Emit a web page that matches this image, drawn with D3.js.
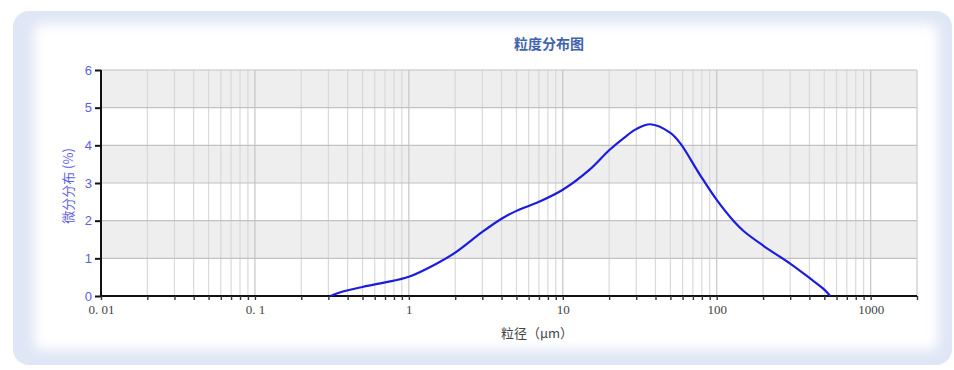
<!DOCTYPE html>
<html>
<head>
<meta charset="utf-8">
<script src="https://cdn.jsdelivr.net/npm/d3@7/dist/d3.min.js"></script>
<style>
  html, body { margin: 0; padding: 0; background: #ffffff; }
  svg { display: block; }
</style>
</head>
<body>
<svg id="chart" width="954" height="370"></svg>
<script>
// Particle size (µm) and differential distribution (%)
const particleSize = [0.31, 0.36, 0.5, 0.7, 1, 1.5, 2, 3, 4, 5, 7, 10, 15, 20, 25, 30, 37, 50, 58, 78, 100, 130, 150, 200, 300, 400, 500, 546];
const differential = [0, 0.1, 0.24, 0.36, 0.51, 0.85, 1.15, 1.7, 2.05, 2.26, 2.5, 2.82, 3.36, 3.87, 4.2, 4.43, 4.56, 4.33, 4.05, 3.21, 2.55, 1.97, 1.72, 1.34, 0.86, 0.48, 0.17, 0];
const xTickValues = [0.01, 0.1, 1, 10, 100, 1000];
const xTickLabels = ["0. 01", "0. 1", "1", "10", "100", "1000"];
const yTickValues = [0, 1, 2, 3, 4, 5, 6];
const chartTitle = "粒度分布图";
const xTitle = "粒径（μm）";
const yTitle = "微分分布 (%)";

const svg = d3.select("#chart");
const cjk = "'Noto Sans CJK SC', 'Noto Sans', sans-serif";

// Panel with a soft blue rim
const defs = svg.append("defs");
defs.append("filter").attr("id", "soft")
  .attr("x", "-10%").attr("y", "-10%").attr("width", "120%").attr("height", "120%")
  .append("feGaussianBlur").attr("stdDeviation", 6);
svg.append("rect").attr("x", 13).attr("y", 11).attr("width", 939).attr("height", 354)
  .attr("rx", 16).attr("fill", "#dfe6f5");
svg.append("rect").attr("x", 34).attr("y", 24).attr("width", 904).attr("height", 326)
  .attr("rx", 8).attr("fill", "#ffffff").attr("filter", "url(#soft)");

const plotL = 101, plotR = 917, plotT = 70, plotB = 296;
const x = d3.scaleLog().domain([0.01, 2000]).range([plotL, plotR]);
const y = d3.scaleLinear().domain([0, 6]).range([plotB, plotT]);

// Alternating bands
const bands = [[5, 6], [3, 4], [1, 2]];
svg.append("g").selectAll("rect").data(bands).join("rect")
  .attr("x", plotL).attr("width", plotR - plotL)
  .attr("y", d => y(d[1])).attr("height", d => y(d[0]) - y(d[1]))
  .attr("fill", "#eeeeee");

// Vertical grid at every log tick
const gridX = [];
for (let e = -2; e <= 3; e++) {
  for (let m = 1; m <= 9; m++) {
    const v = m * Math.pow(10, e);
    if (v <= 2000) gridX.push(v);
  }
}
const isMajor = v => Math.abs(Math.log10(v) - Math.round(Math.log10(v))) < 1e-9;
svg.append("g").selectAll("line").data(gridX.concat([2000])).join("line")
  .attr("x1", d => x(d)).attr("x2", d => x(d))
  .attr("y1", plotT).attr("y2", plotB)
  .attr("stroke", d => isMajor(d) ? "#c4c4c4" : "#d9d9d9")
  .attr("stroke-width", 1.2);

// Horizontal grid
svg.append("g").selectAll("line").data(yTickValues.slice(1)).join("line")
  .attr("x1", plotL).attr("x2", plotR)
  .attr("y1", d => y(d)).attr("y2", d => y(d))
  .attr("stroke", "#c2c2c2").attr("stroke-width", 1.2);

// Y axis
const yAxis = svg.append("g").attr("transform", `translate(${plotL},0)`)
  .call(d3.axisLeft(y).tickValues(yTickValues).tickFormat(d3.format("d")).tickSize(6).tickPadding(3));
yAxis.select(".domain").attr("stroke", "#111").attr("stroke-width", 2).attr("d", `M0,${plotT}V${plotB}`);
yAxis.selectAll(".tick line").attr("stroke", "#111").attr("stroke-width", 2);
yAxis.selectAll(".tick text").attr("fill", "#5d5de4")
  .style("font-family", "'Liberation Sans', Arial, sans-serif").style("font-size", "13px");

// X axis
const xAxis = svg.append("g").attr("transform", `translate(0,${plotB})`)
  .call(d3.axisBottom(x).tickValues(gridX).tickSize(4).tickPadding(5)
    .tickFormat(d => { const i = xTickValues.findIndex(t => Math.abs(t - d) / t < 1e-9); return i >= 0 ? xTickLabels[i] : ""; }));
xAxis.select(".domain").attr("stroke", "#111").attr("stroke-width", 2.2).attr("d", `M${plotL},0H${plotR}`);
xAxis.selectAll(".tick line").attr("stroke", "#333").attr("stroke-width", 1.4);
xAxis.selectAll(".tick text").attr("fill", "#444")
  .style("font-family", "'Liberation Serif', 'DejaVu Serif', serif").style("font-size", "13px");

// Distribution curve
const line = d3.line()
  .x((d, i) => x(particleSize[i]))
  .y(d => y(d))
  .curve(d3.curveCatmullRom.alpha(0.5));
svg.append("path").datum(differential)
  .attr("d", line)
  .attr("fill", "none").attr("stroke", "#1c1ce0").attr("stroke-width", 2.2);

// Titles
svg.append("text").attr("x", 549).attr("y", 49).attr("text-anchor", "middle")
  .attr("fill", "#3f63ad").style("font-family", cjk).style("font-size", "14px").style("font-weight", "bold")
  .text(chartTitle);
svg.append("text").attr("x", 537).attr("y", 338).attr("text-anchor", "middle")
  .attr("fill", "#444").style("font-family", cjk).style("font-size", "13px")
  .text(xTitle);
svg.append("text").attr("transform", "translate(73,186) rotate(-90)").attr("text-anchor", "middle")
  .attr("fill", "#5d5de4").style("font-family", cjk).style("font-size", "13px")
  .text(yTitle);
</script>
</body>
</html>
